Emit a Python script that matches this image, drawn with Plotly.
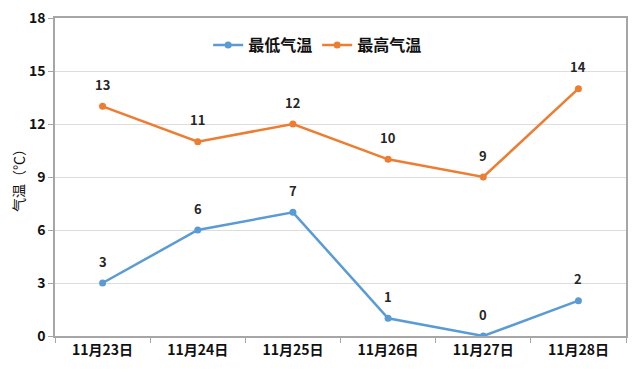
import plotly.graph_objects as go

dates = ["11月23日", "11月24日", "11月25日", "11月26日", "11月27日", "11月28日"]
low_temp = [3, 6, 7, 1, 0, 2]
high_temp = [13, 11, 12, 10, 9, 14]
y_ticks = [0, 3, 6, 9, 12, 15, 18]

FONT = "Noto Sans CJK SC"
BLUE = "#5B9BD5"
ORANGE = "#ED7D31"

fig = go.Figure()
for name, vals, col in [("最低气温", low_temp, BLUE), ("最高气温", high_temp, ORANGE)]:
    fig.add_trace(go.Scatter(
        x=dates, y=vals, name=name, mode="lines+markers",
        line=dict(color=col, width=2.5), marker=dict(size=7, color=col),
    ))
    for d, v in zip(dates, vals):
        fig.add_annotation(x=d, y=v, text=str(v), showarrow=False, yshift=22,
                           font=dict(family=FONT, size=13, color="#262626", weight="bold"))

# page body has an 8px margin, so the figure is sized to fit the 640x374 window
fig.update_layout(
    width=632, height=366,
    margin=dict(l=47, r=14, t=10, b=38),
    paper_bgcolor="white", plot_bgcolor="white",
    font=dict(family=FONT, color="#111111"),
    showlegend=True,
    legend=dict(orientation="h", x=0.46, xanchor="center", y=0.915, yanchor="middle",
                font=dict(family=FONT, size=16, color="#111111", weight="bold"),
                bgcolor="rgba(0,0,0,0)", itemwidth=30, tracegroupgap=0),
)
fig.update_xaxes(
    type="category", range=[-0.5, 5.5], automargin=False,
    showline=True, linecolor="#A6A6A6", linewidth=1.5, mirror=True,
    ticks="outside", tickson="boundaries", ticklen=5, tickcolor="#A6A6A6",
    showgrid=False,
    tickfont=dict(family=FONT, size=14, color="#111111", weight="bold"),
)
fig.update_yaxes(
    range=[0, 18], tickvals=y_ticks, automargin=False, ticklabeloverflow="allow",
    showline=True, linecolor="#A6A6A6", linewidth=1.5, mirror=True,
    ticks="outside", ticklen=5, tickcolor="#A6A6A6",
    showgrid=True, gridcolor="#DDDDDD", gridwidth=1,
    zeroline=False,
    tickfont=dict(family=FONT, size=14, color="#111111", weight="bold"),
    title=dict(text="气温（℃）", font=dict(family=FONT, size=14, color="#111111"), standoff=10),
)

fig.write_html("out.html")
